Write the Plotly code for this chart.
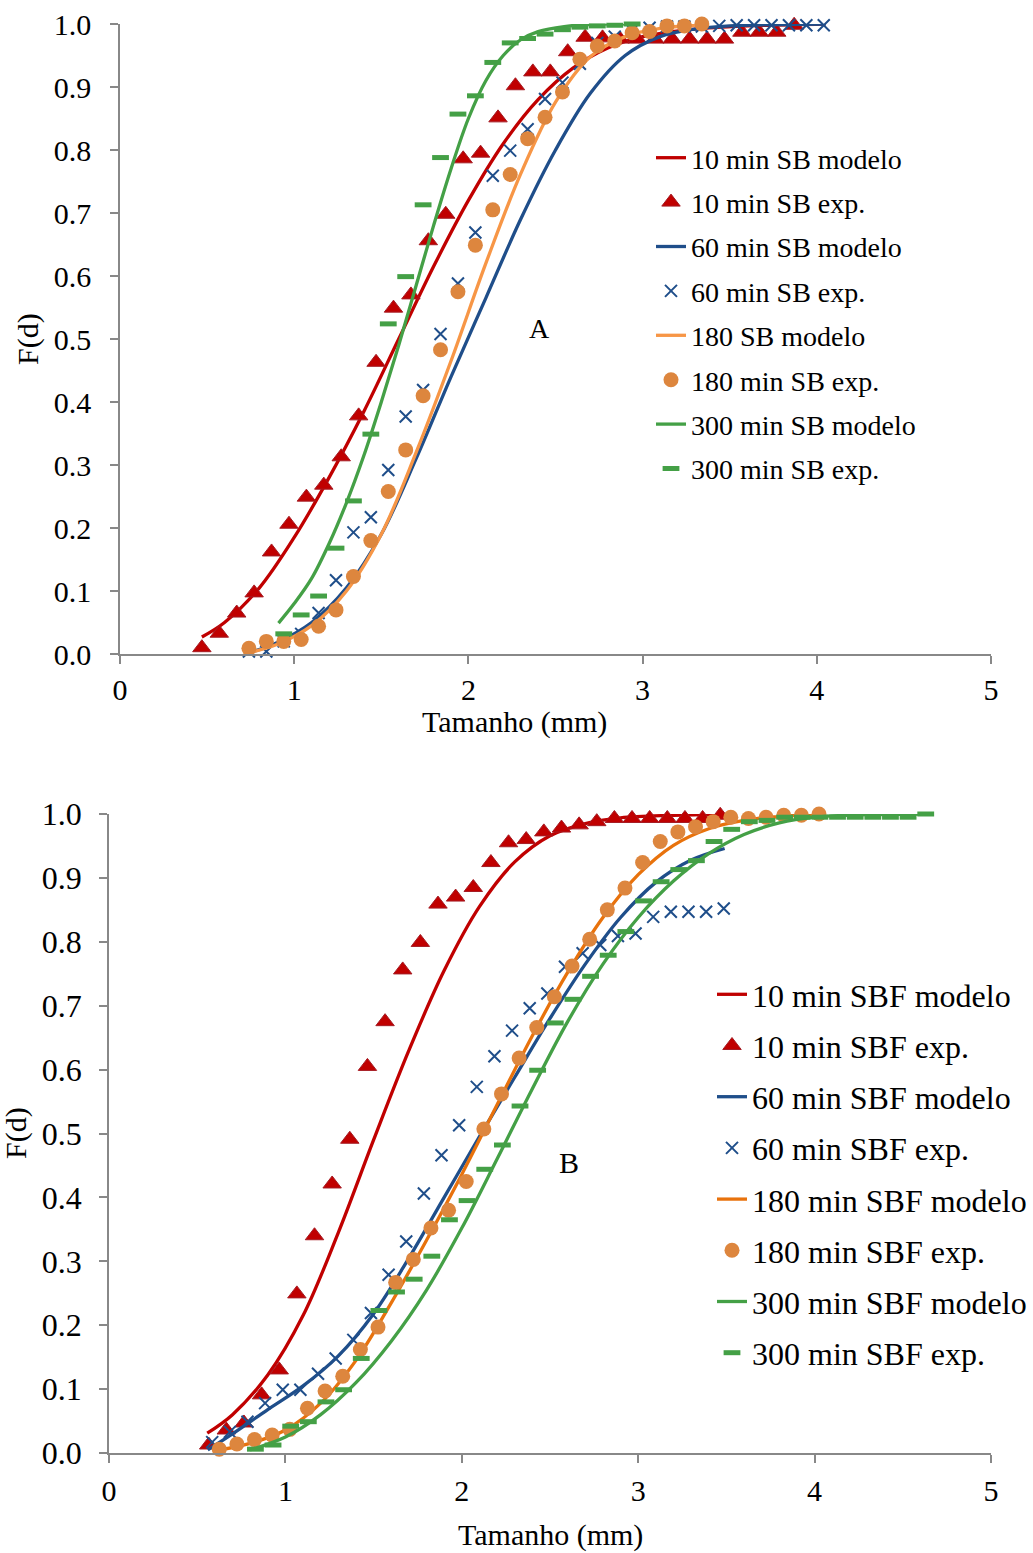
import plotly.graph_objects as go

FONT = "Liberation Serif"
W, H = 1033, 1553

RED = "#C00000"
BLUE = "#1F4E8A"
ORANGE_A = "#F79646"
ORANGE_B = "#E8720C"
ORANGE_PT = "#DD863E"
GREEN = "#44A046"
AXIS = "#888888"

# ---------------- Panel A: SB ----------------
sb10_mod_x = [0.47, 0.6, 0.8, 1.0, 1.2, 1.4, 1.6, 1.8, 2.0, 2.2, 2.4, 2.6, 2.8, 3.0, 3.3, 3.6, 4.05]
sb10_mod_y = [0.027, 0.05, 0.105, 0.185, 0.28, 0.385, 0.50, 0.615, 0.72, 0.81, 0.88, 0.93, 0.962, 0.98, 0.992, 0.997, 1.0]
sb10_exp_x = [0.47, 0.57, 0.67, 0.77, 0.87, 0.97, 1.07, 1.17, 1.27, 1.37, 1.47, 1.57, 1.67, 1.77, 1.87,
              1.97, 2.07, 2.17, 2.27, 2.37, 2.47, 2.57, 2.67, 2.77, 2.87, 2.97, 3.07, 3.17, 3.27, 3.37,
              3.47, 3.57, 3.67, 3.77, 3.87]
sb10_exp_y = [0.010, 0.033, 0.065, 0.097, 0.162, 0.206, 0.249, 0.268, 0.313, 0.378, 0.463, 0.549, 0.570, 0.656, 0.698,
              0.786, 0.795, 0.851, 0.902, 0.924, 0.924, 0.956, 0.979, 0.978, 0.976, 0.976, 0.976, 0.976, 0.976, 0.976,
              0.976, 0.987, 0.987, 0.987, 0.998]

sb60_mod_x = [0.72, 0.9, 1.1, 1.3, 1.5, 1.7, 1.9, 2.1, 2.3, 2.5, 2.7, 2.9, 3.1, 3.3, 3.5, 3.8, 4.05]
sb60_mod_y = [0.0, 0.018, 0.05, 0.105, 0.19, 0.31, 0.44, 0.565, 0.69, 0.80, 0.89, 0.95, 0.98, 0.992, 0.997, 0.999, 1.0]
sb60_exp_x = [0.74, 0.84, 0.94, 1.04, 1.14, 1.24, 1.34, 1.44, 1.54, 1.64, 1.74, 1.84, 1.94, 2.04, 2.14,
              2.24, 2.34, 2.44, 2.54, 2.64, 2.74, 2.84, 2.94, 3.04, 3.14, 3.24, 3.34, 3.44, 3.54, 3.64,
              3.74, 3.84, 3.94, 4.04]
sb60_exp_y = [0.004, 0.004, 0.020, 0.032, 0.065, 0.117, 0.193, 0.217, 0.292, 0.377, 0.419, 0.508, 0.588, 0.669, 0.759,
              0.799, 0.833, 0.881, 0.907, 0.937, 0.970, 0.980, 0.990, 0.994, 0.996, 0.996, 0.996, 0.997, 0.998, 0.998,
              0.998, 0.998, 0.998, 0.998]

sb180_mod_x = [0.71, 0.9, 1.1, 1.3, 1.5, 1.7, 1.9, 2.1, 2.3, 2.5, 2.7, 2.9, 3.1, 3.3]
sb180_mod_y = [0.0, 0.015, 0.045, 0.10, 0.19, 0.32, 0.465, 0.62, 0.762, 0.876, 0.948, 0.98, 0.993, 0.998]
sb180_exp_x = [0.74, 0.84, 0.94, 1.04, 1.14, 1.24, 1.34, 1.44, 1.54, 1.64, 1.74, 1.84, 1.94, 2.04,
               2.14, 2.24, 2.34, 2.44, 2.54, 2.64, 2.74, 2.84, 2.94, 3.04, 3.14, 3.24, 3.34]
sb180_exp_y = [0.009, 0.020, 0.020, 0.023, 0.044, 0.070, 0.123, 0.180, 0.258, 0.324, 0.410, 0.483, 0.575, 0.649,
               0.705, 0.761, 0.818, 0.852, 0.892, 0.944, 0.965, 0.973, 0.986, 0.988, 0.997, 0.997, 1.000]

sb300_mod_x = [0.91, 1.0, 1.1, 1.2, 1.3, 1.4, 1.5, 1.6, 1.7, 1.8, 1.9, 2.0, 2.1, 2.2, 2.3, 2.4, 2.55, 2.75, 2.97]
sb300_mod_y = [0.049, 0.08, 0.12, 0.175, 0.24, 0.315, 0.40, 0.49, 0.585, 0.68, 0.77, 0.85, 0.91, 0.95, 0.975, 0.988, 0.996, 1.0, 1.0]
sb300_exp_x = [0.94, 1.04, 1.14, 1.24, 1.34, 1.44, 1.54, 1.64, 1.74, 1.84, 1.94,
               2.04, 2.14, 2.24, 2.34, 2.44, 2.54, 2.64, 2.74, 2.84, 2.94]
sb300_exp_y = [0.032, 0.062, 0.092, 0.168, 0.243, 0.349, 0.524, 0.599, 0.713, 0.788, 0.857,
               0.886, 0.939, 0.970, 0.977, 0.984, 0.991, 0.995, 0.997, 0.998, 1.000]

# ---------------- Panel B: SBF ----------------
sbf10_mod_x = [0.557, 0.7, 0.9, 1.1, 1.3, 1.5, 1.7, 1.9, 2.1, 2.3, 2.5, 2.7, 2.9, 3.2, 3.48]
sbf10_mod_y = [0.031, 0.06, 0.122, 0.215, 0.345, 0.49, 0.63, 0.755, 0.855, 0.925, 0.966, 0.985, 0.994, 0.998, 1.0]
sbf10_exp_x = [0.565, 0.665, 0.765, 0.865, 0.965, 1.065, 1.165, 1.265, 1.365, 1.465, 1.565, 1.665, 1.765, 1.865, 1.965,
               2.065, 2.165, 2.265, 2.365, 2.465, 2.565, 2.665, 2.765, 2.865, 2.965, 3.065, 3.165, 3.265, 3.365, 3.465]
sbf10_exp_y = [0.0125, 0.036, 0.047, 0.091, 0.130, 0.249, 0.340, 0.421, 0.491, 0.605, 0.675, 0.756, 0.799, 0.859, 0.870,
               0.885, 0.924, 0.955, 0.960, 0.972, 0.978, 0.983, 0.988, 0.993, 0.993, 0.993, 0.993, 0.993, 0.993, 0.998]

sbf60_mod_x = [0.56, 0.7, 0.9, 1.1, 1.3, 1.5, 1.7, 1.9, 2.1, 2.3, 2.5, 2.7, 2.9, 3.1, 3.3, 3.49]
sbf60_mod_y = [0.005, 0.03, 0.068, 0.105, 0.152, 0.218, 0.305, 0.40, 0.495, 0.588, 0.68, 0.765, 0.838, 0.893, 0.928, 0.946]
sbf60_exp_x = [0.585, 0.685, 0.785, 0.885, 0.985, 1.085, 1.185, 1.285, 1.385, 1.485, 1.585, 1.685, 1.785, 1.885, 1.985,
               2.085, 2.185, 2.285, 2.385, 2.485, 2.585, 2.685, 2.785, 2.885, 2.985, 3.085, 3.185, 3.285, 3.385, 3.485]
sbf60_exp_y = [0.017, 0.033, 0.049, 0.078, 0.099, 0.099, 0.124, 0.148, 0.177, 0.219, 0.279, 0.331, 0.406, 0.466, 0.513,
               0.573, 0.621, 0.661, 0.696, 0.719, 0.761, 0.782, 0.795, 0.809, 0.813, 0.839, 0.847, 0.847, 0.847, 0.852]

sbf180_mod_x = [0.59, 0.8, 1.0, 1.2, 1.4, 1.6, 1.8, 2.0, 2.2, 2.4, 2.6, 2.8, 3.0, 3.2, 3.4, 3.6, 3.8, 4.03]
sbf180_mod_y = [0.003, 0.015, 0.036, 0.078, 0.145, 0.235, 0.333, 0.436, 0.545, 0.653, 0.752, 0.838, 0.905, 0.951, 0.977, 0.99, 0.996, 1.0]
sbf180_exp_x = [0.625, 0.725, 0.825, 0.925, 1.025, 1.125, 1.225, 1.325, 1.425, 1.525, 1.625, 1.725, 1.825, 1.925, 2.025,
                2.125, 2.225, 2.325, 2.425, 2.525, 2.625, 2.725, 2.825, 2.925, 3.025, 3.125, 3.225, 3.325, 3.425, 3.525,
                3.625, 3.725, 3.825, 3.925, 4.025]
sbf180_exp_y = [0.006, 0.014, 0.021, 0.028, 0.037, 0.070, 0.097, 0.120, 0.162, 0.197, 0.267, 0.303, 0.352, 0.380, 0.425,
                0.507, 0.562, 0.618, 0.666, 0.714, 0.762, 0.804, 0.850, 0.884, 0.924, 0.957, 0.972, 0.980, 0.988, 0.995,
                0.993, 0.995, 0.998, 0.998, 1.000]

sbf300_mod_x = [0.8, 1.0, 1.2, 1.4, 1.6, 1.8, 2.0, 2.2, 2.4, 2.6, 2.8, 3.0, 3.2, 3.4, 3.6, 3.8, 4.0, 4.3, 4.63]
sbf300_mod_y = [0.005, 0.025, 0.06, 0.11, 0.175, 0.255, 0.352, 0.46, 0.57, 0.675, 0.765, 0.838, 0.895, 0.938, 0.968, 0.986, 0.995, 0.999, 1.0]
sbf300_exp_x = [0.83, 0.93, 1.03, 1.13, 1.23, 1.33, 1.43, 1.53, 1.63, 1.73, 1.83, 1.93, 2.03, 2.13, 2.23,
                2.33, 2.43, 2.53, 2.63, 2.73, 2.83, 2.93, 3.03, 3.13, 3.23, 3.33, 3.43, 3.53, 3.63, 3.73,
                3.83, 3.93, 4.03, 4.13, 4.23, 4.33, 4.43, 4.53, 4.63]
sbf300_exp_y = [0.006, 0.0125, 0.042, 0.049, 0.080, 0.099, 0.148, 0.223, 0.252, 0.272, 0.308, 0.365, 0.395, 0.444, 0.482,
                0.543, 0.599, 0.673, 0.710, 0.746, 0.779, 0.816, 0.864, 0.894, 0.913, 0.927, 0.957, 0.976, 0.988, 0.990,
                0.995, 0.995, 0.995, 0.995, 0.995, 0.995, 0.995, 0.995, 1.000]

x_ticks = [0, 1, 2, 3, 4, 5]
y_ticks = [0.0, 0.1, 0.2, 0.3, 0.4, 0.5, 0.6, 0.7, 0.8, 0.9, 1.0]
y_tick_text = [f"{v:.1f}" for v in y_ticks]

fig = go.Figure()


def model(x, y, name, color, xa, ya, legend):
    fig.add_trace(go.Scatter(
        x=x, y=y, name=name, mode="lines",
        line=dict(color=color, width=3.3, shape="spline", smoothing=1.0),
        xaxis=xa, yaxis=ya, legend=legend, legendgroup=name, cliponaxis=False))


def exp(x, y, name, kind, xa, ya, legend):
    if kind == "tri":
        marker = dict(symbol="triangle-up", size=16, color=RED,
                      line=dict(color="#A51C24", width=1))
    elif kind == "x":
        marker = dict(symbol="x-thin", size=12, color=BLUE,
                      line=dict(color=BLUE, width=2))
    elif kind == "dot":
        marker = dict(symbol="circle", size=15, color=ORANGE_PT,
                      line=dict(width=0))
    else:
        marker = dict(symbol="line-ew", size=12, color=GREEN,
                      line=dict(color=GREEN, width=5))
    fig.add_trace(go.Scatter(
        x=x, y=y, name=name, mode="markers", marker=marker,
        xaxis=xa, yaxis=ya, legend=legend, legendgroup=name, cliponaxis=False))


# Panel A traces
model(sb10_mod_x, sb10_mod_y, "10 min SB modelo", RED, "x", "y", "legend")
exp(sb10_exp_x, sb10_exp_y, "10 min SB exp.", "tri", "x", "y", "legend")
model(sb60_mod_x, sb60_mod_y, "60 min SB modelo", BLUE, "x", "y", "legend")
exp(sb60_exp_x, sb60_exp_y, "60 min SB exp.", "x", "x", "y", "legend")
model(sb180_mod_x, sb180_mod_y, "180 SB modelo", ORANGE_A, "x", "y", "legend")
exp(sb180_exp_x, sb180_exp_y, "180 min SB exp.", "dot", "x", "y", "legend")
model(sb300_mod_x, sb300_mod_y, "300 min SB modelo", GREEN, "x", "y", "legend")
exp(sb300_exp_x, sb300_exp_y, "300 min SB exp.", "dash", "x", "y", "legend")

# Panel B traces
model(sbf10_mod_x, sbf10_mod_y, "10 min SBF modelo", RED, "x2", "y2", "legend2")
exp(sbf10_exp_x, sbf10_exp_y, "10 min SBF exp.", "tri", "x2", "y2", "legend2")
model(sbf60_mod_x, sbf60_mod_y, "60 min SBF modelo", BLUE, "x2", "y2", "legend2")
exp(sbf60_exp_x, sbf60_exp_y, "60 min SBF exp.", "x", "x2", "y2", "legend2")
model(sbf180_mod_x, sbf180_mod_y, "180 min SBF modelo", ORANGE_B, "x2", "y2", "legend2")
exp(sbf180_exp_x, sbf180_exp_y, "180 min SBF exp.", "dot", "x2", "y2", "legend2")
model(sbf300_mod_x, sbf300_mod_y, "300 min SBF modelo", GREEN, "x2", "y2", "legend2")
exp(sbf300_exp_x, sbf300_exp_y, "300 min SBF exp.", "dash", "x2", "y2", "legend2")


def px_x(p):
    return p / W


def px_y(p):
    return 1 - p / H


def xaxis(domain, anchor, size, standoff):
    return dict(domain=domain, anchor=anchor, range=[0, 5], tickvals=x_ticks, automargin=False,
                showgrid=False, zeroline=False, showline=True, linecolor=AXIS, linewidth=1.5,
                ticks="outside", ticklen=8, tickcolor=AXIS, tickwidth=1.5,
                tickfont=dict(family=FONT, size=size, color="black"), ticklabelstandoff=standoff)


def yaxis(domain, anchor, size, standoff):
    return dict(domain=domain, anchor=anchor, range=[0, 1], tickvals=y_ticks, ticktext=y_tick_text,
                automargin=False,
                showgrid=False, zeroline=False, showline=True, linecolor=AXIS, linewidth=1.5,
                ticks="outside", ticklen=8, tickcolor=AXIS, tickwidth=1.5,
                tickfont=dict(family=FONT, size=size, color="black"), ticklabelstandoff=standoff)


annotations = [
    dict(text="Tamanho (mm)", x=px_x(514), y=px_y(722), xref="paper", yref="paper",
         showarrow=False, xanchor="center", yanchor="middle", font=dict(family=FONT, size=30)),
    dict(text="F(d)", x=px_x(28), y=px_y(339), xref="paper", yref="paper", textangle=-90,
         showarrow=False, xanchor="center", yanchor="middle", font=dict(family=FONT, size=30)),
    dict(text="A", x=2.41, y=0.517, xref="x", yref="y", showarrow=False,
         font=dict(family=FONT, size=28)),
    dict(text="Tamanho (mm)", x=px_x(550), y=px_y(1535), xref="paper", yref="paper",
         showarrow=False, xanchor="center", yanchor="middle", font=dict(family=FONT, size=30)),
    dict(text="F(d)", x=px_x(16), y=px_y(1133), xref="paper", yref="paper", textangle=-90,
         showarrow=False, xanchor="center", yanchor="middle", font=dict(family=FONT, size=30)),
    dict(text="B", x=2.61, y=0.454, xref="x2", yref="y2", showarrow=False,
         font=dict(family=FONT, size=30)),
]

fig.update_layout(
    width=W, height=H, margin=dict(l=0, r=0, t=0, b=0, autoexpand=False),
    paper_bgcolor="white", plot_bgcolor="white",
    font=dict(family=FONT, color="black"),
    xaxis=xaxis([px_x(120), px_x(991)], "y", 30, 0),
    yaxis=yaxis([px_y(654), px_y(24)], "x", 30, 13),
    xaxis2=xaxis([px_x(109), px_x(991)], "y2", 30, 2),
    yaxis2=yaxis([px_y(1453), px_y(814)], "x2", 32, 11),
    legend=dict(x=px_x(651), y=px_y(133), xanchor="left", yanchor="top",
                font=dict(family=FONT, size=28, color="black"), bgcolor="rgba(0,0,0,0)",
                traceorder="grouped", tracegroupgap=5, itemwidth=30),
    legend2=dict(x=px_x(712), y=px_y(967), xanchor="left", yanchor="top",
                 font=dict(family=FONT, size=32, color="black"), bgcolor="rgba(0,0,0,0)",
                 traceorder="grouped", tracegroupgap=6.6, itemwidth=30),
    annotations=annotations,
    showlegend=True,
)

fig.write_html("out.html")
